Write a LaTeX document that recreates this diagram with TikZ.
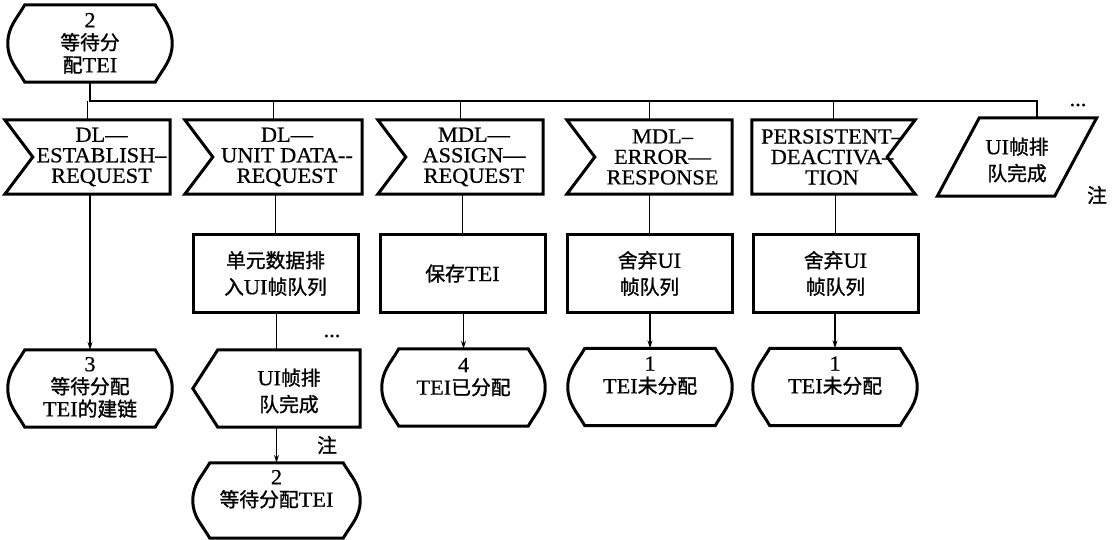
\documentclass[tikz,border=0pt]{standalone}
\usepackage{fontspec}
\setmainfont{Liberation Serif}[FakeStretch=1.04,FakeBold=0.6]
\newfontfamily\cjk{Noto Sans CJK SC}[Scale=0.92,FakeBold=1.2]
\usetikzlibrary{arrows.meta,calc}
\newcommand\zh[1]{{\cjk #1}}
\tikzset{
  border/.style={line width=3pt, line join=miter},
  conn/.style={line width=1.1pt},
  arr/.style={conn,-{Stealth[length=8pt,width=5pt]}},
  holder/.style 2 args={draw=none, inner sep=0pt, minimum width=#1pt, minimum height=#2pt},
  sigtxt/.style={inner sep=0pt, align=center, font=\fontsize{21.5}{20.5}\selectfont},
  boxtxt/.style={inner sep=0pt, align=center, font=\fontsize{21.5}{26.5}\selectfont},
  sttxt/.style={inner sep=0pt, align=center, anchor=north, font=\fontsize{21.5}{22.5}\selectfont},
  taskbox/.style 2 args={border, draw, inner sep=0pt, align=center, minimum width=#1pt, minimum height=#2pt, font=\fontsize{21.5}{26.5}\selectfont},
  note/.style={inner sep=0pt, font=\fontsize{21.5}{22}\selectfont},
}
\newcommand\stateoutline[1]{%
  \draw[border] ([xshift=17pt]#1.north west) -- ([xshift=-17pt]#1.north east)
    to[out=-60,in=90] (#1.east) to[out=-90,in=60] ([xshift=-17pt]#1.south east)
    -- ([xshift=17pt]#1.south west) to[out=120,in=-90] (#1.west)
    to[out=90,in=240] ([xshift=17pt]#1.north west) -- cycle;}
\newcommand\inoutline[1]{%
  \draw[border] (#1.north west) -- (#1.north east) -- (#1.south east) -- (#1.south west) -- ([xshift=28pt]#1.west) -- cycle;}
\newcommand\inoutlineR[1]{%
  \draw[border] (#1.north west) -- (#1.north east) -- ([xshift=-28pt]#1.east) -- (#1.south east) -- (#1.south west) -- cycle;}
\newcommand\outoutline[1]{%
  \draw[border] (#1.west) -- ([xshift=25pt]#1.north west) -- (#1.north east) -- (#1.south east) -- ([xshift=25pt]#1.south west) -- cycle;}
\newcommand\paraoutline[1]{%
  \draw[border] ([xshift=42pt]#1.north west) -- (#1.north east) -- ([xshift=-42pt]#1.south east) -- (#1.south west) -- cycle;}
\begin{document}
\begin{tikzpicture}[x=1pt,y=1pt]
\useasboundingbox (0,0) rectangle (1114,-540);
% top state
\node[holder={164}{77}] (s0) at (90,-43.5) {};
\stateoutline{s0}
\node[sttxt] (s0t) at ([yshift=-8pt]s0.north) {2\\\zh{等待分}\\\zh{配}TEI};
% input signals
\node[holder={165}{74}] (i1) at (87.5,-157) {};
\inoutline{i1}
\node[sigtxt] (i1t) at (101.5,-157) {DL—\\ESTABLISH–\\REQUEST};
\node[holder={177}{74}] (i2) at (273.5,-157) {};
\inoutline{i2}
\node[sigtxt] (i2t) at (287,-157) {DL—\\UNIT DATA-{}-\\REQUEST};
\node[holder={165}{74}] (i3) at (460.5,-157) {};
\inoutline{i3}
\node[sigtxt] (i3t) at (474,-157) {MDL—\\ASSIGN—\\REQUEST};
\node[holder={165}{74}] (i4) at (649.5,-157) {};
\inoutline{i4}
\node[sigtxt] (i4t) at (662.5,-157) {MDL–\\ERROR—\\RESPONSE};
\node[holder={163}{74}] (i5) at (833.5,-157) {};
\inoutlineR{i5}
\node[sigtxt] (i5t) at (832,-157) {PERSISTENT–\\DEACTIVA–\\TION};
\node[holder={159}{78}] (p6) at (1017,-157) {};
\paraoutline{p6}
\node[boxtxt] (p6t) at (1017,-160) {UI\zh{帧排}\\\zh{队完成}};
\node[note] (d1) at (1078,-105) {...};
\node[note] (n1) at (1097,-195) {\zh{注}};
% bus
\coordinate (b1) at (88,-101);
\coordinate (b6) at (1037,-101);
\draw[conn] (s0.south) -- (s0.south |- b1) -- (b6) -- (b6 |- p6.north);
\foreach \n in {i1,i2,i3,i4,i5} \draw[conn] (\n.north |- b1) -- (\n.north);
% tasks
\node[taskbox={165}{77}] (t2) at (275.5,-273.5) {\zh{单元数据排}\\\zh{入}UI\zh{帧队列}};
\node[taskbox={165}{77}] (t3) at (462.5,-273.5) {\zh{保存}TEI};
\node[taskbox={165}{77}] (t4) at (649.5,-273.5) {\zh{舍弃}UI\\\zh{帧队列}};
\node[taskbox={165}{77}] (t5) at (835.5,-273.5) {\zh{舍弃}UI\\\zh{帧队列}};
\foreach \a/\b in {i2/t2,i3/t3,i4/t4,i5/t5} \draw[conn] (\b.north |- \a.south) -- (\b.north);
% lower row
\node[holder={164}{77}] (s3) at (90,-388.5) {};
\stateoutline{s3}
\node[sttxt] (s3t) at ([yshift=-7pt]s3.north) {3\\\zh{等待分配}\\TEI\zh{的建链}};
\node[holder={167}{77}] (o2) at (276.5,-388.5) {};
\outoutline{o2}
\node[boxtxt] (o2t) at (289,-391) {UI\zh{帧排}\\\zh{队完成}};
\node[note] (d2) at (332,-336) {...};
\node[holder={163}{77}] (s4) at (463.5,-387.5) {};
\stateoutline{s4}
\node[sttxt] (s4t) at ([yshift=-9pt]s4.north) {4\\TEI\zh{已分配}};
\node[holder={164}{77}] (s1a) at (650,-387) {};
\stateoutline{s1a}
\node[sttxt] (s1at) at ([yshift=-8pt]s1a.north) {1\\TEI\zh{未分配}};
\node[holder={164}{77}] (s1b) at (835,-387) {};
\stateoutline{s1b}
\node[sttxt] (s1bt) at ([yshift=-8pt]s1b.north) {1\\TEI\zh{未分配}};
\node[holder={167}{75}] (s2b) at (276.5,-500.5) {};
\stateoutline{s2b}
\node[sttxt] (s2bt) at ([yshift=-7pt]s2b.north) {2\\\zh{等待分配}TEI};
\node[note] (n2) at (327,-445) {\zh{注}};
% connectors lower
\draw[arr] (s3.north |- i1.south) -- (s3.north);
\draw[conn] (o2.north |- t2.south) -- (o2.north);
\draw[arr] (s2b.north |- o2.south) -- (s2b.north);
\draw[arr] (s4.north |- t3.south) -- (s4.north);
\draw[arr] (s1a.north |- t4.south) -- (s1a.north);
\draw[arr] (s1b.north |- t5.south) -- (s1b.north);
\end{tikzpicture}
\end{document}
